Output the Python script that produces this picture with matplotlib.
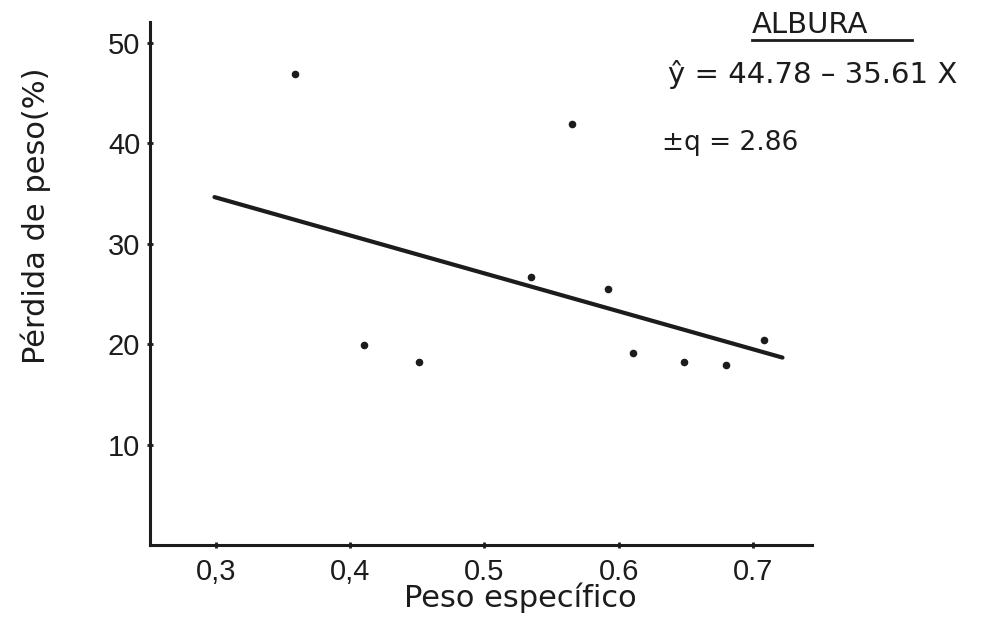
import matplotlib
matplotlib.use("Agg")
import matplotlib.pyplot as plt
from matplotlib.lines import Line2D

# data
peso_especifico = [0.359, 0.410, 0.451, 0.535, 0.565, 0.592, 0.611, 0.649, 0.680, 0.708]
perdida_peso = [46.9, 19.9, 18.2, 26.7, 41.9, 25.5, 19.1, 18.2, 17.9, 20.4]

# fitted line as drawn (end points)
linea_x = [0.299, 0.722]
linea_y = [34.66, 18.67]

xticks = [0.3, 0.4, 0.5, 0.6, 0.7]
xtick_labels = ["0,3", "0,4", "0.5", "0.6", "0.7"]
yticks = [10, 20, 30, 40, 50]

ink = "#1c1c1c"
tick_font = ["Liberation Sans", "DejaVu Sans"]
label_font = ["DejaVu Sans"]

fig = plt.figure(figsize=(9.85, 6.24), dpi=100)
ax = fig.add_axes([0.1523, 0.1266, 0.6721, 0.8381])

ax.scatter(peso_especifico, perdida_peso, s=20, color=ink, zorder=3)
ax.plot(linea_x, linea_y, color=ink, lw=3.0, solid_capstyle="round")

ax.set_xlim(0.251, 0.744)
ax.set_ylim(0, 52.1)

ax.set_xticks(xticks)
ax.set_xticklabels(xtick_labels, family=tick_font, fontsize=21, color=ink)
ax.set_yticks(yticks)
ax.set_yticklabels([str(v) for v in yticks], family=tick_font, fontsize=21, color=ink)
ax.tick_params(direction="inout", length=4, width=2, color=ink)
ax.tick_params(axis="x", pad=7)
ax.tick_params(axis="y", pad=5)

for side in ["top", "right"]:
    ax.spines[side].set_visible(False)
for side in ["left", "bottom"]:
    ax.spines[side].set_linewidth(2.2)
    ax.spines[side].set_color(ink)

ax.set_xlabel("Peso específico", family=label_font, fontsize=22, color=ink)
ax.xaxis.set_label_coords(0.56, -0.072)
ax.set_ylabel("Pérdida de peso(%)", family=label_font, fontsize=22, color=ink)
ax.yaxis.set_label_coords(-0.150, 0.63)

# title and equation
fig.text(752 / 985, 1 - 33 / 624, "ALBURA", family=label_font, fontsize=21,
         color=ink, ha="left", va="baseline")
fig.add_artist(Line2D([752 / 985, 912 / 985], [1 - 40 / 624, 1 - 40 / 624],
                      color=ink, lw=2, transform=fig.transFigure))
fig.text(668 / 985, 1 - 83 / 624, "ŷ = 44.78 – 35.61 X", family=label_font,
         fontsize=21, color=ink, ha="left", va="baseline")
fig.text(662 / 985, 1 - 150 / 624, "±q = 2.86", family=label_font,
         fontsize=19, color=ink, ha="left", va="baseline")

fig.savefig("out.png", dpi=100, facecolor="white")
